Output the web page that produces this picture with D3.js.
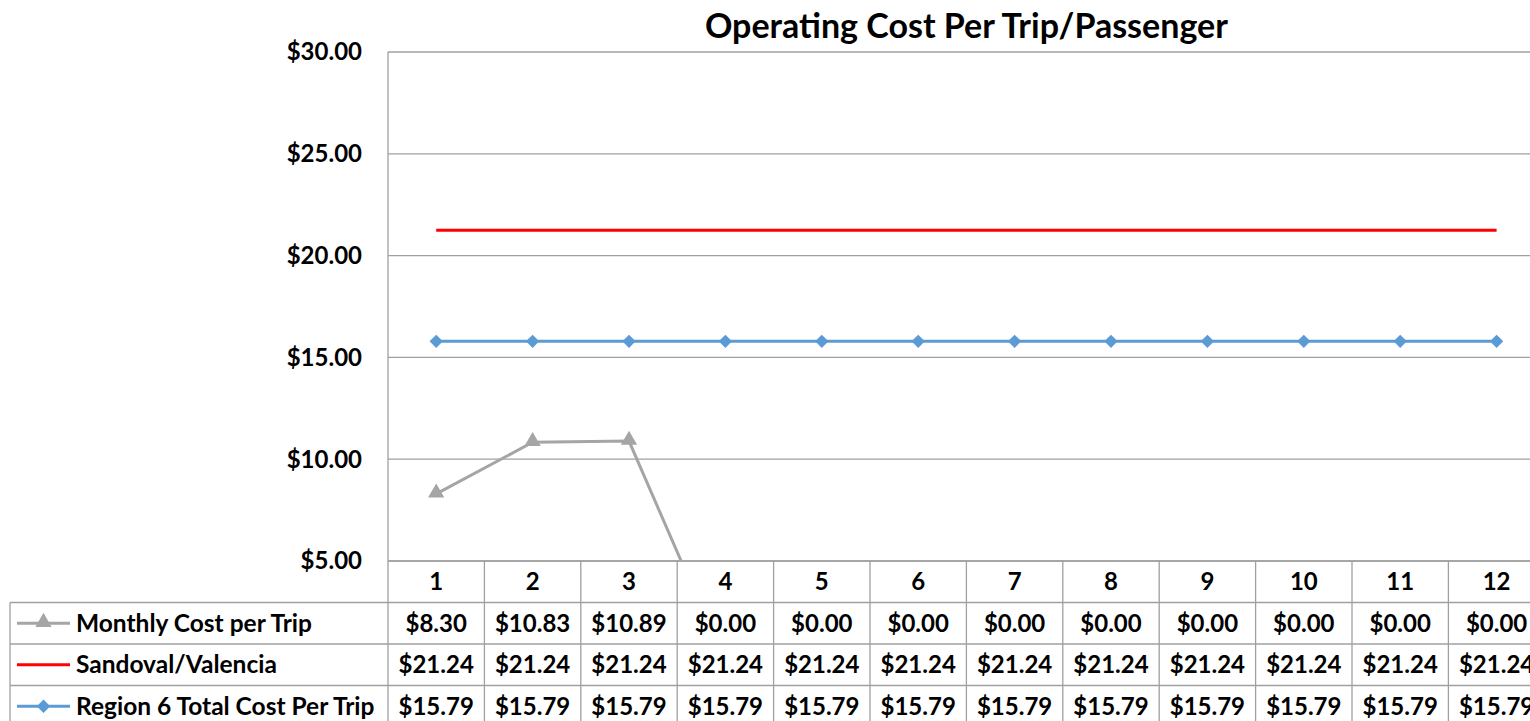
<!DOCTYPE html>
<html>
<head>
<meta charset="utf-8">
<script src="https://cdn.jsdelivr.net/npm/d3@7"></script>
<style>
  body { margin: 0; background: #fff; }
  svg { display: block; font-family: Lato, "Open Sans", sans-serif; font-weight: bold; }
</style>
</head>
<body>
<div id="chart"></div>
<script>
// Chart data
const months = ["1", "2", "3", "4", "5", "6", "7", "8", "9", "10", "11", "12"];
const monthlyCost = [8.30, 10.83, 10.89, 0, 0, 0, 0, 0, 0, 0, 0, 0];
const sandoval = [21.24, 21.24, 21.24, 21.24, 21.24, 21.24, 21.24, 21.24, 21.24, 21.24, 21.24, 21.24];
const region6 = [15.79, 15.79, 15.79, 15.79, 15.79, 15.79, 15.79, 15.79, 15.79, 15.79, 15.79, 15.79];
const yTicks = [5, 10, 15, 20, 25, 30];

const series = [
    {name: "Monthly Cost per Trip", values: monthlyCost, colour: "#a5a5a5", marker: "triangle"},
    {name: "Sandoval/Valencia", values: sandoval, colour: "#ff0000", marker: null},
    {name: "Region 6 Total Cost Per Trip", values: region6, colour: "#5b9bd5", marker: "diamond"}
];

// dimensions
const W = 1530, H = 721;
const plot = {left: 388, top: 52, bottom: 561, colW: 96.4};
const rowH = 41.5;
const tableLeft = 10;
const gridColour = "#a0a0a0";
const money = (v) => "$" + d3.format(".2f")(v);

const svg = d3.select("#chart")
    .append("svg")
    .attr("width", W)
    .attr("height", H);

// scales
const x = d3.scaleBand()
    .domain(months)
    .range([plot.left, plot.left + months.length * plot.colW]);

const y = d3.scaleLinear()
    .domain([5, 30])
    .range([plot.bottom, plot.top]);

// Title
svg.append("text")
    .attr("x", (x.range()[0] + x.range()[1]) / 2)
    .attr("y", 38)
    .attr("text-anchor", "middle")
    .style("font-size", "34px")
    .text("Operating Cost Per Trip/Passenger");

// gridlines + y labels
svg.append("g")
    .selectAll("line")
    .data(yTicks)
    .enter()
    .append("line")
    .attr("x1", plot.left)
    .attr("x2", x.range()[1])
    .attr("y1", (d) => y(d))
    .attr("y2", (d) => y(d))
    .attr("stroke", gridColour)
    .attr("stroke-width", 1.3);

svg.append("g")
    .selectAll("text")
    .data(yTicks)
    .enter()
    .append("text")
    .attr("x", 362)
    .attr("y", (d) => y(d))
    .attr("dy", "0.35em")
    .attr("text-anchor", "end")
    .style("font-size", "24px")
    .text(money);

// left axis line
svg.append("line")
    .attr("x1", plot.left).attr("x2", plot.left)
    .attr("y1", plot.top).attr("y2", H)
    .attr("stroke", gridColour)
    .attr("stroke-width", 1.3);

// Data table
const tableTop = plot.bottom + rowH;
const tbl = svg.append("g");

// horizontal row lines
[0, 1, 2, 3].forEach(function(i) {
    tbl.append("line")
        .attr("x1", i == 0 ? plot.left : tableLeft)
        .attr("x2", x.range()[1])
        .attr("y1", plot.bottom + i * rowH)
        .attr("y2", plot.bottom + i * rowH)
        .attr("stroke", gridColour)
        .attr("stroke-width", 1.3);
});

// vertical column lines
tbl.selectAll(".col")
    .data(months)
    .enter()
    .append("line")
    .attr("x1", (d) => x(d) + x.bandwidth())
    .attr("x2", (d) => x(d) + x.bandwidth())
    .attr("y1", plot.bottom)
    .attr("y2", H)
    .attr("stroke", gridColour)
    .attr("stroke-width", 1.3);

tbl.append("line")
    .attr("x1", tableLeft).attr("x2", tableLeft)
    .attr("y1", tableTop).attr("y2", H)
    .attr("stroke", gridColour)
    .attr("stroke-width", 1.3);

// header (category labels)
tbl.selectAll(".hdr")
    .data(months)
    .enter()
    .append("text")
    .attr("x", (d) => x(d) + x.bandwidth() / 2)
    .attr("y", plot.bottom + rowH / 2)
    .attr("dy", "0.35em")
    .attr("text-anchor", "middle")
    .style("font-size", "24px")
    .text((d) => d);

const triangle = d3.symbol().type(d3.symbolTriangle).size(115);
const diamond = d3.symbol().type(d3.symbolSquare).size(88);

const drawMarker = function(g, s, cx, cy) {
    if (s.marker == "triangle") {
        g.append("path").attr("d", triangle)
            .attr("transform", `translate(${cx},${cy - 1})`)
            .attr("fill", s.colour);
    } else if (s.marker == "diamond") {
        g.append("path").attr("d", diamond)
            .attr("transform", `translate(${cx},${cy}) rotate(45)`)
            .attr("fill", s.colour);
    }
};

series.forEach(function(s, i) {
    const cy = tableTop + i * rowH + rowH / 2;
    // legend key
    tbl.append("line")
        .attr("x1", 17).attr("x2", 70)
        .attr("y1", cy).attr("y2", cy)
        .attr("stroke", s.colour)
        .attr("stroke-width", 3);
    drawMarker(tbl, s, 43.5, cy);
    tbl.append("text")
        .attr("x", 76)
        .attr("y", cy)
        .attr("dy", "0.35em")
        .style("font-size", "24.5px")
        .text(s.name);
    // values
    tbl.append("g")
        .selectAll("text")
        .data(s.values)
        .enter()
        .append("text")
        .attr("x", (d, j) => x(months[j]) + x.bandwidth() / 2)
        .attr("y", cy)
        .attr("dy", "0.35em")
        .attr("text-anchor", "middle")
        .style("font-size", "24px")
        .text(money);
});

// Plot lines (clipped to plot area)
svg.append("clipPath")
    .attr("id", "plotClip")
    .append("rect")
    .attr("x", plot.left)
    .attr("y", plot.top - 10)
    .attr("width", W)
    .attr("height", plot.bottom - plot.top + 10);

const line = d3.line()
    .x((d, j) => x(months[j]) + x.bandwidth() / 2)
    .y((d) => y(d));

const lines = svg.append("g").attr("clip-path", "url(#plotClip)");

series.forEach(function(s) {
    lines.append("path")
        .datum(s.values)
        .attr("d", line)
        .attr("fill", "none")
        .attr("stroke", s.colour)
        .attr("stroke-width", 3);
    s.values.forEach(function(v, j) {
        drawMarker(lines, s, x(months[j]) + x.bandwidth() / 2, y(v));
    });
});
</script>
</body>
</html>
